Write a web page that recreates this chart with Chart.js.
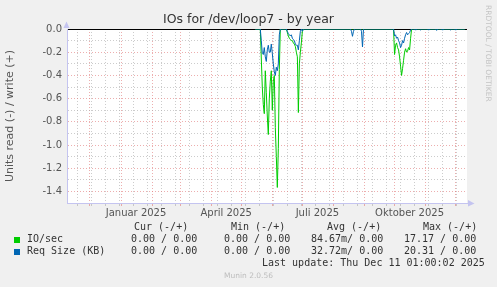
<!DOCTYPE html>
<html><head><meta charset="utf-8">
<script src="https://cdn.jsdelivr.net/npm/chart.js@4"></script>
<style>
html,body{margin:0;padding:0;background:#f0f0f0;}
#wrap{position:relative;width:497px;height:287px;overflow:hidden;background:#f0f0f0;}
canvas{position:absolute;left:0;top:0;}
.t{position:absolute;white-space:pre;}
.m{font-family:'DejaVu Sans Mono',monospace;font-size:10px;line-height:12px;color:#333;}
.sq{position:absolute;width:6px;height:6px;}
</style></head><body>
<div id="wrap">
<canvas id="c" width="497" height="287"></canvas>
<div class="t" style="left:0;width:497px;text-align:center;top:12px;font:12.5px/14px 'DejaVu Sans';color:#333">IOs for /dev/loop7 - by year</div>
<div class="t" style="left:484px;top:5px;writing-mode:vertical-rl;font:7.5px/9px 'DejaVu Sans';color:#c4c4c4">RRDTOOL / TOBI OETIKER</div>
<div class="t m" style="left:134px;top:221px">Cur (-/+)</div>
<div class="t m" style="left:231px;top:221px">Min (-/+)</div>
<div class="t m" style="left:327px;top:221px">Avg (-/+)</div>
<div class="t m" style="left:423px;top:221px">Max (-/+)</div>
<div class="sq" style="left:14px;top:237px;background:#00cc00"></div>
<div class="t m" style="left:27px;top:233px">IO/sec</div>
<div class="t m" style="left:131px;top:233px">0.00 / 0.00</div>
<div class="t m" style="left:224px;top:233px">0.00 / 0.00</div>
<div class="t m" style="left:311px;top:233px">84.67m/ 0.00</div>
<div class="t m" style="left:404px;top:233px">17.17 / 0.00</div>
<div class="sq" style="left:14px;top:249px;background:#0066b3"></div>
<div class="t m" style="left:27px;top:245px">Req Size (KB)</div>
<div class="t m" style="left:131px;top:245px">0.00 / 0.00</div>
<div class="t m" style="left:224px;top:245px">0.00 / 0.00</div>
<div class="t m" style="left:311px;top:245px">32.72m/ 0.00</div>
<div class="t m" style="left:404px;top:245px">20.31 / 0.00</div>
<div class="t m" style="left:262px;top:257px">Last update: Thu Dec 11 01:00:02 2025</div>
<div class="t" style="left:0;width:497px;text-align:center;top:271px;font:7.5px/10px 'DejaVu Sans';color:#bdbdbd">Munin 2.0.56</div>
</div>
<script>
// ---- data (daily values, read side shown negative) ----
const startDate = '2025-05-15';
const ioRead = [
 0,0,0,0,0,0,-0.25,-0.5,-0.65,-0.73,
 -0.36,-0.55,-0.75,-0.91,-0.6,-0.45,-0.36,-0.70,-0.45,-0.40,
 -0.85,-1.10,-1.366,-1.03,-0.35,0,0,0,0,0,
 0,0,-0.03,-0.06,-0.08,-0.09,-0.1,-0.1,-0.12,-0.13,
 -0.15,-0.2,-0.24,-0.72,-0.3,-0.2,-0.12,-0.02,0,0,
 0,0,0,0,0,0,0,0,0,0,
 0,0,0,0,0,0,0,0,0,0,
 0,0,0,0,0,0,0,0,0,0,
 0,0,0,0,0,0,0,0,0,0,
 0,0,0,0,0,0,0,0,0,0,
 0,0,0,0,0,0,0,0,0,0,
 0,0,0,0,0,0,0,0,0,0,
 0,0,0,0,0,0,0,0,0,0,
 0,0,0,0,0,0,0,0,0,-0.22,
 -0.14,-0.12,-0.16,-0.18,-0.24,-0.32,-0.40,-0.34,-0.27,-0.20,
 -0.17,-0.20,-0.19,-0.16,-0.18,-0.08,0,0,0,0,
 0,0,0,0,0,0,0,0,0,0,
 0,0,0,0,0,0,0,0,0,0,
 0,0,0,0,0,0,0,0,0,0,
 0,0,0,0,0,0,0,0,0,0,
 0,0,0,0,0,0,0,0,0,0
];
const reqSizeRead = [
 0,0,0,0,0,0,-0.1,-0.21,-0.22,-0.16,
 -0.24,-0.28,-0.18,-0.14,-0.20,-0.20,-0.13,-0.21,-0.30,-0.37,
 -0.40,-0.33,-0.36,-0.30,-0.05,0,0,0,0,0,
 0,0,-0.02,-0.04,-0.05,-0.06,-0.05,-0.08,-0.09,-0.1,
 -0.13,-0.14,-0.14,-0.18,-0.1,-0.02,0,-0.02,0,0,
 0,0,0,0,0,0,0,0,0,0,
 0,0,0,0,0,0,0,0,0,0,
 0,0,0,0,0,0,0,0,0,0,
 0,0,0,0,0,0,0,0,0,0,
 0,0,0,0,0,0,-0.02,-0.063,-0.02,0,
 0,0,0,0,0,0,-0.02,-0.155,0,0,
 0,0,0,0,0,0,0,0,0,0,
 0,0,0,0,0,0,0,0,0,0,
 0,0,0,0,0,0,0,0,0,-0.06,
 -0.05,-0.08,-0.07,-0.10,-0.12,-0.16,-0.14,-0.10,-0.12,-0.08,
 -0.05,-0.03,-0.05,-0.04,-0.03,-0.01,0,0,0,0,
 -0.01,0,0,0,0,-0.008,0,0,0,0,
 0,0,0,-0.01,0,0,0,0,0,0,
 0,-0.012,0,0,0,0,0,-0.01,0,0,
 0,0,0,0,0,-0.008,0,0,0,0,
 -0.01,0,0,0,0,0,0,0,0,0
];
// axis: days relative to 2025-01-01
const axisStartFrac = -53.9;
const axisEndFrac = 345.3;
const monthStarts = ['2024-12-01','2025-01-01','2025-02-01','2025-03-01','2025-04-01','2025-05-01','2025-06-01','2025-07-01','2025-08-01','2025-09-01','2025-10-01','2025-11-01','2025-12-01'];
const quarterLabels = ['Januar 2025','April 2025','Juli 2025','Oktober 2025'];
const quarterMonths = ['2025-01-01','2025-04-01','2025-07-01','2025-10-01'];
const minorFirst = -43.5;   // first bi-weekly minor grid line
const minorStepDays = 14;
const yTickValues = [0,-0.1,-0.2,-0.3,-0.4,-0.5,-0.6,-0.7,-0.8,-0.9,-1.0,-1.1,-1.2,-1.3,-1.4,-1.5];
const yTitle = 'Units read (-) / write (+)';

const DAY = 86400000;
const base = Date.UTC(2025,0,1);
function dayOf(s){const p=s.split('-').map(Number);return (Date.UTC(p[0],p[1]-1,p[2])-base)/DAY;}
const startDay = dayOf(startDate);
const pts = arr => arr.map((v,i)=>({x:startDay+i,y:v}));

const xTicks = [];
monthStarts.forEach(m=>xTicks.push({value:dayOf(m),kind:'major'}));
for(let v=minorFirst; v<axisEndFrac; v+=minorStepDays) xTicks.push({value:v,kind:'minor'});
quarterMonths.forEach((m,i)=>xTicks.push({value:dayOf(m)+15,kind:'label',text:quarterLabels[i]}));

const MAJ='rgba(225,120,120,0.6)', MIN='rgba(170,170,170,0.6)', AX='#c4c4f0';
const plotBg = {id:'plotBg',
  beforeDraw(c){const a=c.chartArea,ctx=c.ctx;ctx.save();ctx.fillStyle='#fff';ctx.fillRect(a.left,a.top,a.right-a.left,a.bottom-a.top);ctx.restore();},
  afterDraw(c){const a=c.chartArea,ctx=c.ctx;ctx.save();ctx.fillStyle=AX;
    ctx.beginPath();ctx.moveTo(a.left-3.5,a.top-1);ctx.lineTo(a.left-0.5,a.top-7.5);ctx.lineTo(a.left+2.5,a.top-1);ctx.closePath();ctx.fill();
    ctx.beginPath();ctx.moveTo(a.right+1,a.bottom-3);ctx.lineTo(a.right+7.5,a.bottom+0.5);ctx.lineTo(a.right+1,a.bottom+3.5);ctx.closePath();ctx.fill();
    ctx.restore();}
};

new Chart(document.getElementById('c'),{
  type:'line',
  data:{datasets:[
    {label:'Req Size (KB)',data:pts(reqSizeRead),borderColor:'#0066b3',borderWidth:1,pointRadius:0,tension:0,fill:false,xAxisID:'x',yAxisID:'y'},
    {label:'IO/sec',data:pts(ioRead),borderColor:'#00cc00',borderWidth:1,pointRadius:0,tension:0,fill:false,xAxisID:'x',yAxisID:'y'}
  ]},
  options:{
    responsive:false,animation:false,devicePixelRatio:1,
    layout:{padding:{top:29,right:30,left:0,bottom:0}},
    plugins:{legend:{display:false},tooltip:{enabled:false},title:{display:false}},
    scales:{
      x:{type:'linear',min:axisStartFrac,max:axisEndFrac,
        afterBuildTicks(s){s.ticks=xTicks.map(t=>Object.assign({},t));},
        afterFit(s){s.height=84;},
        ticks:{autoSkip:false,maxRotation:0,padding:1,color:'#555',font:{family:'DejaVu Sans',size:10},
          callback(v,i,ticks){const t=ticks[i];return t.kind==='label'?t.text:'';}},
        grid:{lineWidth:1,tickLength:3,drawTicks:true,
          color(ctx){const t=ctx.tick;if(!t)return 'transparent';return t.kind==='major'?MAJ:t.kind==='minor'?MIN:'transparent';}},
        border:{color:AX,width:1,dash:[1,2]}
      },
      y:{type:'linear',position:'left',min:-1.5,max:0,
        afterBuildTicks(s){s.ticks=yTickValues.map(v=>({value:v}));},
        afterFit(s){s.width=67;},
        ticks:{autoSkip:false,padding:5,color:'#555',font:{family:'DejaVu Sans',size:10},
          callback(v){const k=Math.round(v*10);return (k%2===0)?(k/10).toFixed(1):'';}},
        title:{display:true,text:yTitle,color:'#555',font:{family:'DejaVu Sans',size:11},padding:{top:4,bottom:0}},
        grid:{drawTicks:false,lineWidth:1,
          color(ctx){const t=ctx.tick;if(!t)return 'transparent';const k=Math.round(t.value*10);if(k===-15||k===0)return 'transparent';return k%2===0?MAJ:MIN;}},
        border:{color:AX,width:1,dash:[1,2]}
      },
      y0:{type:'linear',position:'left',min:-1.5,max:0,z:1,
        afterBuildTicks(s){s.ticks=[{value:0}];},
        afterFit(s){s.width=0;},
        ticks:{display:false},
        grid:{drawTicks:false,color:'#000',lineWidth:1},
        border:{display:false,dash:[]}
      }
    }
  },
  plugins:[plotBg]
});
</script>
</body></html>
